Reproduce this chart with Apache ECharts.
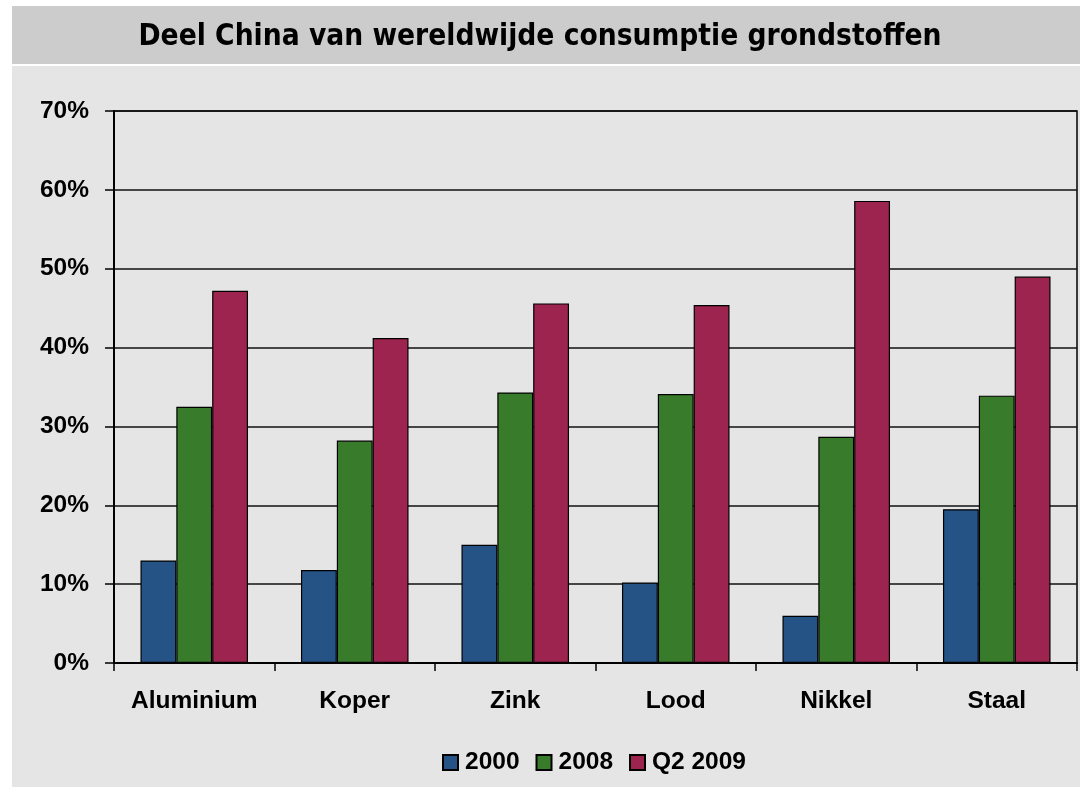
<!DOCTYPE html>
<html>
<head>
<meta charset="utf-8">
<script src="https://cdn.jsdelivr.net/npm/echarts@6/dist/echarts.min.js"></script>
<style>
  html, body { margin: 0; padding: 0; background: #ffffff; }
  #chart { width: 1080px; height: 787px; }
</style>
</head>
<body>
<div id="chart"></div>
<script>
// Share of China in global raw-material consumption (%)
const categories = ['Aluminium', 'Koper', 'Zink', 'Lood', 'Nikkel', 'Staal'];
const seriesNames = ['2000', '2008', 'Q2 2009'];
const values2000 = [13.0, 11.8, 15.0, 10.2, 6.0, 19.5];
const values2008 = [32.5, 28.2, 34.3, 34.1, 28.7, 33.9];
const valuesQ22009 = [47.2, 41.2, 45.6, 45.4, 58.6, 49.0];
const colors = ['#265386', '#387C2B', '#9C244E'];

const chart = echarts.init(document.getElementById('chart'), null, { renderer: 'canvas' });

const labelFont = {
  fontFamily: 'Liberation Sans, Arial, sans-serif',
  fontWeight: 'bold',
  fontSize: 24.5,
  color: '#000'
};

function barSeries(name, data, color) {
  return {
    name: name,
    type: 'bar',
    data: data,
    barGap: '0%',
    barCategoryGap: '33%',
    itemStyle: { color: color, borderColor: '#000', borderWidth: 1.2 }
  };
}

chart.setOption({
  animation: false,
  backgroundColor: '#ffffff',
  graphic: [
    // title band and chart panel
    { type: 'rect', z: -10, shape: { x: 12, y: 6, width: 1068, height: 58 }, style: { fill: '#cccccc' } },
    { type: 'rect', z: -10, shape: { x: 12, y: 66, width: 1068, height: 721 }, style: { fill: '#e5e5e5' } }
  ],
  title: {
    text: 'Deel China van wereldwijde consumptie grondstoffen',
    left: 'center',
    top: 17,
    textStyle: {
      fontFamily: 'DejaVu Sans Condensed, DejaVu Sans, sans-serif',
      fontWeight: 'bold',
      fontSize: 29.6,
      color: '#000'
    }
  },
  legend: {
    bottom: 7,
    left: 437,
    itemWidth: 15,
    itemHeight: 15,
    itemGap: 16,
    icon: 'rect',
    textStyle: Object.assign({}, labelFont, { padding: [0, 0, 0, 2] }),
    data: seriesNames
  },
  grid: {
    left: 114,
    right: 3,
    top: 111,
    bottom: 124,
    show: true,
    borderColor: '#000',
    borderWidth: 1.5,
    backgroundColor: 'transparent',
    containLabel: false
  },
  xAxis: {
    type: 'category',
    data: categories,
    axisLine: { lineStyle: { color: '#000', width: 2 } },
    axisTick: { show: true, interval: 0, length: 8, lineStyle: { color: '#000', width: 1.5 } },
    axisLabel: Object.assign({}, labelFont, { margin: 26, interval: 0 })
  },
  yAxis: {
    type: 'value',
    min: 0,
    max: 70,
    interval: 10,
    axisLine: { show: true, lineStyle: { color: '#000', width: 2 } },
    axisTick: { show: true, length: 9, lineStyle: { color: '#000', width: 1.5 } },
    splitLine: { lineStyle: { color: '#111', width: 1.5 } },
    axisLabel: Object.assign({}, labelFont, { margin: 25, formatter: '{value}%' })
  },
  series: [
    barSeries(seriesNames[0], values2000, colors[0]),
    barSeries(seriesNames[1], values2008, colors[1]),
    barSeries(seriesNames[2], valuesQ22009, colors[2])
  ]
});
</script>
</body>
</html>
